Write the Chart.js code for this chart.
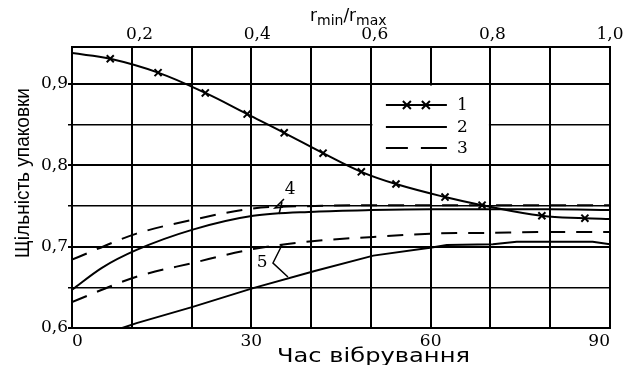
<!DOCTYPE html>
<html>
<head>
<meta charset="utf-8">
<script src="https://cdn.jsdelivr.net/npm/chart.js@4.4.1/dist/chart.umd.min.js"></script>
<style>
  html, body { margin: 0; padding: 0; background: #fff; }
  canvas { display: block; }
</style>
</head>
<body>
<canvas id="chart" width="626" height="365"></canvas>
<script>
// Щільність упаковки vs час вібрування (нижня вісь) та r_min/r_max (верхня вісь)

// крива 1 (з хрестиками)
const curve1T = [0, 6.4, 14.4, 22.3, 29.3, 35.5, 42, 48.4, 54.2, 62.4, 68.6, 78.6, 85.8, 90];
const curve1V = [0.938, 0.931, 0.914, 0.889, 0.863, 0.840, 0.815, 0.792, 0.777, 0.761, 0.751, 0.738, 0.735, 0.734];

// крива 4: суцільна (2) та штрихова (3)
const curve4SolidT = [0, 5, 10.8, 20.2, 30.3, 40.6, 50, 60, 70, 80, 90];
const curve4SolidV = [0.647, 0.674, 0.696, 0.721, 0.738, 0.743, 0.745, 0.746, 0.746, 0.746, 0.745];
const curve4DashT = [0, 10.8, 20.2, 30.3, 40.6, 50, 60, 70, 80, 90];
const curve4DashV = [0.684, 0.716, 0.733, 0.747, 0.750, 0.751, 0.751, 0.751, 0.751, 0.751];

// крива 5: суцільна (2) та штрихова (3)
const curve5SolidT = [8.4, 10.8, 20.2, 30.3, 40.6, 50.4, 60.2, 62.7, 70.4, 74.4, 87.1, 90];
const curve5SolidV = [0.600, 0.606, 0.626, 0.649, 0.670, 0.689, 0.699, 0.702, 0.703, 0.706, 0.706, 0.703];
const curve5DashT = [0, 10.8, 20.2, 30.3, 40.6, 50.4, 60, 70, 80, 90];
const curve5DashV = [0.632, 0.663, 0.680, 0.697, 0.707, 0.712, 0.716, 0.717, 0.718, 0.718];

// осі
const yTicks = [0.6, 0.65, 0.7, 0.75, 0.8, 0.85, 0.9];
const yLabelTicks = [0.6, 0.7, 0.8, 0.9];
const xLabelTicks = [0, 30, 60, 90];
const topTicks = [0.2, 0.4, 0.6, 0.8, 1.0];

// підписи кривих і виноски (в координатах даних)
const tag4 = { text: '4', t: 36.5, v: 0.770 };
const tag5 = { text: '5', t: 31.8, v: 0.680 };
const leader4 = [[[35.46, 0.7586], [33.96, 0.7475], [35.3, 0.7488]], [[35.13, 0.7549], [34.63, 0.7402]]];
const leader5 = [[[35.13, 0.7021], [33.62, 0.6799], [36.13, 0.6627]]];

const pts = (ts, vs) => ts.map((t, i) => ({ x: t, y: vs[i] }));
const comma = v => v.toFixed(1).replace('.', ',');
const serif = { family: "'DejaVu Serif', 'Liberation Serif', serif", size: 17 };

const overlay = {
  id: 'overlay',
  afterDraw(chart) {
    const ctx = chart.ctx;
    const sx = chart.scales.x, sy = chart.scales.y;
    const px = t => sx.getPixelForValue(t), py = v => sy.getPixelForValue(v);
    ctx.save();

    // легенда в клітинці сітки
    const l = px(50), r = px(70), top = py(0.9), bot = py(0.8);
    ctx.fillStyle = '#fff';
    ctx.fillRect(l + 1.5, top + 1.5, r - l - 3, bot - top - 3);
    ctx.strokeStyle = '#000';
    ctx.fillStyle = '#000';
    ctx.lineWidth = 2;
    const x0 = l + 15, x1 = l + 76;
    const rows = [top + 21, top + 43, top + 64];
    ctx.beginPath();
    ctx.moveTo(x0, rows[0]); ctx.lineTo(x1, rows[0]);
    ctx.moveTo(x0, rows[1]); ctx.lineTo(x1, rows[1]);
    ctx.moveTo(x0, rows[2]); ctx.lineTo(x0 + 22, rows[2]);
    ctx.moveTo(x0 + 35, rows[2]); ctx.lineTo(x1, rows[2]);
    [x0 + 21, x0 + 40].forEach(cx => {
      ctx.moveTo(cx - 4, rows[0] - 4); ctx.lineTo(cx + 4, rows[0] + 4);
      ctx.moveTo(cx + 4, rows[0] - 4); ctx.lineTo(cx - 4, rows[0] + 4);
    });
    ctx.stroke();
    ctx.font = "17px 'DejaVu Serif', 'Liberation Serif', serif";
    ctx.textBaseline = 'middle';
    ctx.textAlign = 'left';
    ['1', '2', '3'].forEach((s, i) => ctx.fillText(s, l + 86, rows[i] + 1));

    // підписи 4 і 5
    ctx.textAlign = 'center';
    [tag4, tag5].forEach(tg => ctx.fillText(tg.text, px(tg.t), py(tg.v)));
    ctx.lineWidth = 1.5;
    ctx.beginPath();
    leader4.concat(leader5).forEach(line => {
      line.forEach(([t, v], i) => i ? ctx.lineTo(px(t), py(v)) : ctx.moveTo(px(t), py(v)));
    });
    ctx.stroke();

    // верхній заголовок r_min/r_max
    ctx.textAlign = 'left';
    ctx.textBaseline = 'alphabetic';
    const big = "17px 'DejaVu Sans', sans-serif", small = "14px 'DejaVu Sans', sans-serif";
    let cx = 310;
    [['r', big, 21], ['min', small, 25], ['/r', big, 21], ['max', small, 25]].forEach(([s, f, b]) => {
      ctx.font = f;
      ctx.fillText(s, cx, b);
      cx += ctx.measureText(s).width;
    });

    // нижній заголовок
    ctx.font = "19px 'DejaVu Sans', sans-serif";
    const xt = 'Час вібрування';
    let w = ctx.measureText(xt).width;
    ctx.save();
    ctx.translate(277, 362);
    ctx.scale(193 / w, 1);
    ctx.fillText(xt, 0, 0);
    ctx.restore();

    // вертикальний заголовок
    ctx.font = "21px 'Liberation Sans Narrow', 'Liberation Sans', sans-serif";
    const yt = 'Щільність упаковки';
    w = ctx.measureText(yt).width;
    ctx.save();
    ctx.translate(29, 173);
    ctx.rotate(-Math.PI / 2);
    ctx.scale(170 / w, 1);
    ctx.textAlign = 'center';
    ctx.fillText(yt, 0, 0);
    ctx.restore();

    ctx.restore();
  }
};

const line = (data, extra) => Object.assign({
  data, borderColor: '#000', borderWidth: 2, pointRadius: 0,
  cubicInterpolationMode: 'monotone', fill: false, xAxisID: 'x', yAxisID: 'y'
}, extra);

new Chart(document.getElementById('chart'), {
  type: 'line',
  data: {
    datasets: [
      line(pts(curve1T, curve1V), {
        cubicInterpolationMode: 'default', tension: 0.4,
        pointStyle: 'crossRot',
        pointRadius: curve1T.map((t, i) => (i === 0 || i === curve1T.length - 1) ? 0 : 5),
        pointBorderWidth: 2, pointBorderColor: '#000'
      }),
      line(pts(curve4SolidT, curve4SolidV)),
      line(pts(curve4DashT, curve4DashV), { borderDash: [16, 11] }),
      line(pts(curve5SolidT, curve5SolidV), { cubicInterpolationMode: 'default', tension: 0 }),
      line(pts(curve5DashT, curve5DashV), { borderDash: [16, 11] })
    ]
  },
  options: {
    responsive: false,
    animation: false,
    devicePixelRatio: 1,
    layout: { padding: { right: 16 } },
    plugins: { legend: { display: false }, tooltip: { enabled: false } },
    scales: {
      x: {
        type: 'linear', position: 'bottom', min: 0, max: 90,
        afterFit: s => { s.height = 37; },
        ticks: {
          stepSize: 10, color: '#000', font: serif, padding: 3, align: 'inner', maxRotation: 0,
          autoSkip: false,
          callback: v => xLabelTicks.includes(v) ? String(v) : ''
        },
        grid: { color: '#000', lineWidth: 2, drawTicks: false },
        border: { display: true, color: '#000', width: 2 }
      },
      x2: {
        type: 'linear', position: 'top', min: 0.085, max: 1.0,
        afterFit: s => { s.height = 47; },
        afterBuildTicks: s => { s.ticks = topTicks.map(v => ({ value: v })); },
        ticks: { color: '#000', font: serif, padding: 2, maxRotation: 0, autoSkip: false, callback: v => comma(v) },
        grid: { display: false, drawTicks: false },
        border: { display: true, color: '#000', width: 2 }
      },
      y: {
        type: 'linear', position: 'left', min: 0.6, max: 0.9455,
        afterFit: s => { s.width = 72; },
        afterBuildTicks: s => { s.ticks = yTicks.map(v => ({ value: v })); },
        ticks: {
          color: '#000', font: serif, padding: 0, autoSkip: false,
          callback: v => yLabelTicks.some(k => Math.abs(k - v) < 1e-6) ? comma(v) : ''
        },
        grid: {
          color: '#000', tickLength: 4,
          lineWidth: c => yLabelTicks.some(k => Math.abs(k - c.tick.value) < 1e-6) ? 2 : 1.5
        },
        border: { display: true, color: '#000', width: 2 }
      }
    }
  },
  plugins: [overlay]
});
</script>
</body>
</html>
